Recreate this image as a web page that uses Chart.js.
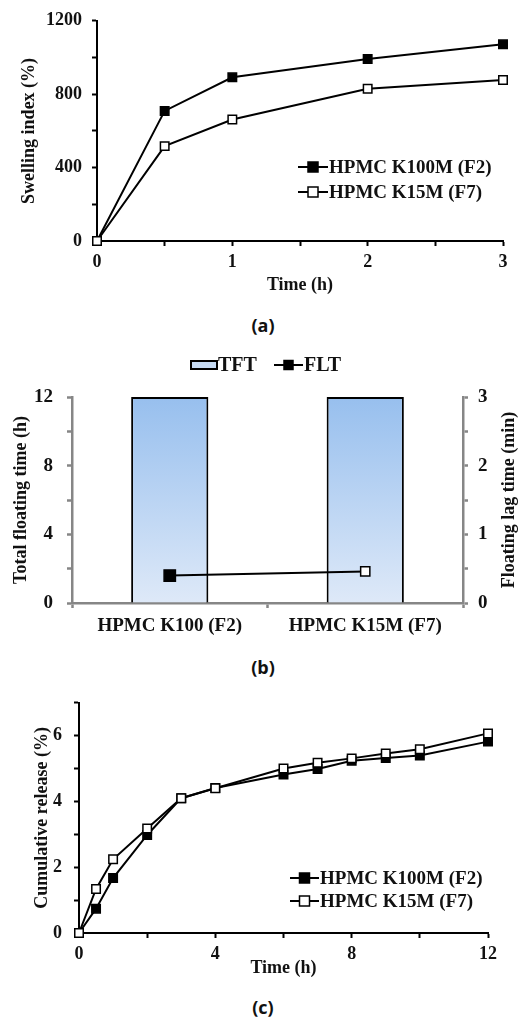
<!DOCTYPE html>
<html>
<head>
<meta charset="utf-8">
<script src="https://cdn.jsdelivr.net/npm/chart.js@4/dist/chart.umd.min.js"></script>
<style>
  html, body { margin: 0; padding: 0; background: #fff; }
  #page { position: relative; width: 528px; height: 1019px; overflow: hidden; }
  canvas { position: absolute; left: 0; }
  .cap { position: absolute; left: 0; width: 526px; text-align: center;
         font: bold 18px "Open Sans", "Noto Sans", sans-serif; color: #111; line-height: 20px; }
</style>
</head>
<body>
<div id="page">
  <canvas id="swell" width="528" height="305" style="top:0"></canvas>
  <div class="cap" style="top:315px">(a)</div>
  <canvas id="float" width="528" height="300" style="top:340px"></canvas>
  <div class="cap" style="top:657px">(b)</div>
  <canvas id="release" width="528" height="300" style="top:680px"></canvas>
  <div class="cap" style="top:997px">(c)</div>
</div>
<script>
// ---- data ----
const swellTime = [0, 0.5, 1, 2, 3];
const swellF2 = [0, 709, 892, 992, 1072];
const swellF7 = [0, 517, 662, 830, 877];
const swellXLabels = [0, 1, 2, 3];
const swellYLabels = [0, 400, 800, 1200];

const floatCategories = ['HPMC K100 (F2)', 'HPMC K15M (F7)'];
const totalFloatingTime = [12, 12];
const floatingLagTime = [0.40, 0.46];
const floatLeftLabels = [0, 4, 8, 12];
const floatRightLabels = [0, 1, 2, 3];

const releaseTime = [0, 0.5, 1, 2, 3, 4, 6, 7, 8, 9, 10, 12];
const releaseF2 = [0, 0.74, 1.67, 2.98, 4.10, 4.41, 4.82, 4.99, 5.24, 5.32, 5.40, 5.82];
const releaseF7 = [0, 1.34, 2.24, 3.18, 4.10, 4.40, 5.00, 5.18, 5.31, 5.46, 5.59, 6.07];
const releaseXLabels = [0, 4, 8, 12];
const releaseYLabels = [0, 2, 4, 6];

const seriesNames = ['HPMC K100M (F2)', 'HPMC K15M (F7)'];

// ---- shared styling ----
const SERIF = '"Liberation Serif", "Times New Roman", serif';
const TXT = '#111';
Chart.defaults.font.family = SERIF;
Chart.defaults.font.weight = 'bold';
Chart.defaults.color = TXT;
Chart.defaults.animation = false;

const pick = list => v => (list.includes(v) ? String(v) : '');
const fixWidth = w => scale => { scale.width = w; };
const fixHeight = h => scale => { scale.height = h; };

function axisStyle(color, width) {
  return {
    border: { display: true, color: color, width: width },
    grid: { drawOnChartArea: false, drawTicks: true, tickLength: 5, tickWidth: width, tickColor: color }
  };
}

// draws a compact legend (line sample with square marker, or bar swatch)
// and an optional right-hand axis title that reads bottom-to-top
const sampleLegend = {
  id: 'sampleLegend',
  afterDraw(chart, args, opts) {
    const ctx = chart.ctx;
    ctx.save();
    if (opts.items) {
      ctx.font = opts.font;
      ctx.textBaseline = 'middle';
      ctx.textAlign = 'left';
      opts.items.forEach(it => {
        const ds = chart.data.datasets[it.dataset];
        if (it.kind === 'box') {
          ctx.fillStyle = it.fill;
          ctx.fillRect(it.x, it.y - it.h / 2, it.w, it.h);
          ctx.strokeStyle = '#000';
          ctx.lineWidth = 2;
          ctx.strokeRect(it.x, it.y - it.h / 2, it.w, it.h);
        } else {
          ctx.strokeStyle = ds.borderColor;
          ctx.lineWidth = ds.borderWidth;
          ctx.beginPath();
          ctx.moveTo(it.x, it.y);
          ctx.lineTo(it.x + it.w, it.y);
          ctx.stroke();
          const bg = Array.isArray(ds.pointBackgroundColor) ? ds.pointBackgroundColor[0] : ds.pointBackgroundColor;
          const s = it.m;
          const cx = it.x + it.w / 2;
          ctx.fillStyle = bg;
          ctx.fillRect(cx - s / 2, it.y - s / 2, s, s);
          ctx.lineWidth = 1.5;
          ctx.strokeStyle = ds.pointBorderColor;
          ctx.strokeRect(cx - s / 2, it.y - s / 2, s, s);
        }
        ctx.fillStyle = TXT;
        ctx.fillText(ds.label, it.x + it.w + (it.gap || 1), it.y + 1);
      });
    }
    if (opts.sideTitle) {
      const t = opts.sideTitle;
      const area = chart.chartArea;
      ctx.translate(t.x, (area.top + area.bottom) / 2);
      ctx.rotate(-Math.PI / 2);
      ctx.font = t.font;
      ctx.fillStyle = TXT;
      ctx.textAlign = 'center';
      ctx.textBaseline = 'middle';
      ctx.fillText(t.text, 0, 0);
    }
    ctx.restore();
  }
};
Chart.register(sampleLegend);

function lineSeries(label, xs, ys, filled, order) {
  return {
    label: label,
    data: xs.map((x, i) => ({ x: x, y: ys[i] })),
    borderColor: '#000',
    borderWidth: 2,
    pointStyle: 'rect',
    pointRadius: 6,
    pointBorderWidth: 1.5,
    pointBorderColor: '#000',
    pointBackgroundColor: filled ? '#000' : '#fff',
    tension: 0,
    clip: false,
    order: order
  };
}

// ---- (a) swelling index ----
new Chart(document.getElementById('swell'), {
  type: 'line',
  data: {
    datasets: [
      lineSeries(seriesNames[0], swellTime, swellF2, true, 1),
      lineSeries(seriesNames[1], swellTime, swellF7, false, 0)
    ]
  },
  options: {
    responsive: false,
    layout: { padding: { top: 18, right: 25, left: 0, bottom: 0 } },
    plugins: {
      legend: { display: false },
      tooltip: { enabled: false },
      sampleLegend: {
        font: 'bold 19px ' + SERIF,
        items: [
          { dataset: 0, kind: 'line', x: 298, y: 167, w: 30, m: 10 },
          { dataset: 1, kind: 'line', x: 298, y: 192, w: 30, m: 10 }
        ]
      }
    },
    scales: {
      x: Object.assign(axisStyle('#000', 2), {
        type: 'linear', min: 0, max: 3,
        afterFit: fixHeight(64),
        ticks: { stepSize: 0.5, autoSkip: false, maxRotation: 0, padding: 6,
                 font: { size: 18 }, callback: pick(swellXLabels) },
        title: { display: true, text: 'Time (h)', font: { size: 18 }, padding: { top: 0, bottom: 9 } }
      }),
      y: Object.assign(axisStyle('#000', 2), {
        min: 0, max: 1200,
        afterFit: fixWidth(97),
        ticks: { stepSize: 200, autoSkip: false, padding: 10,
                 font: { size: 18 }, callback: pick(swellYLabels) },
        title: { display: true, text: 'Swelling index (%)', font: { size: 18 }, padding: { top: 19, bottom: 0 } }
      })
    }
  }
});

// ---- (b) floating behaviour ----
new Chart(document.getElementById('float'), {
  type: 'bar',
  data: {
    labels: floatCategories,
    datasets: [
      {
        type: 'line',
        label: 'FLT',
        data: floatingLagTime,
        yAxisID: 'y1',
        borderColor: '#000',
        borderWidth: 2,
        pointStyle: 'rect',
        pointRadius: [8, 6.5],
        pointBorderWidth: 1.5,
        pointBorderColor: '#000',
        pointBackgroundColor: ['#000', '#fff'],
        clip: false,
        order: 0
      },
      {
        type: 'bar',
        label: 'TFT',
        data: totalFloatingTime,
        yAxisID: 'y',
        backgroundColor: ctx => {
          const area = ctx.chart.chartArea;
          if (!area) return '#bcd5f3';
          const g = ctx.chart.ctx.createLinearGradient(0, area.top, 0, area.bottom);
          g.addColorStop(0, '#97bfee');
          g.addColorStop(1, '#dee9f8');
          return g;
        },
        borderColor: '#000',
        borderWidth: 2,
        categoryPercentage: 1,
        barPercentage: 0.395,
        order: 1
      }
    ]
  },
  options: {
    responsive: false,
    layout: { padding: { top: 57, right: 0, left: 0, bottom: 0 } },
    plugins: {
      legend: { display: false },
      tooltip: { enabled: false },
      sampleLegend: {
        font: 'bold 20px ' + SERIF,
        items: [
          { dataset: 1, kind: 'box', x: 191, y: 25, w: 26, h: 8, fill: '#c6dbf4' },
          { dataset: 0, kind: 'line', x: 274, y: 25, w: 29, m: 9 }
        ],
        sideTitle: { text: 'Floating lag time (min)', x: 509, font: 'bold 18px ' + SERIF }
      }
    },
    scales: {
      x: Object.assign(axisStyle('#868686', 2.5), {
        afterFit: fixHeight(37),
        ticks: { padding: 7, maxRotation: 0, autoSkip: false, font: { size: 19 }, color: TXT }
      }),
      y: Object.assign(axisStyle('#868686', 2.5), {
        position: 'left', min: 0, max: 12,
        afterFit: fixWidth(72),
        ticks: { stepSize: 2, autoSkip: false, padding: 14, font: { size: 19 }, callback: pick(floatLeftLabels) },
        title: { display: true, text: 'Total floating time (h)', font: { size: 18 }, padding: { top: 11, bottom: 0 } }
      }),
      y1: Object.assign(axisStyle('#868686', 2.5), {
        position: 'right', min: 0, max: 3,
        afterFit: fixWidth(65),
        ticks: { stepSize: 0.5, autoSkip: false, padding: 10, font: { size: 19 }, callback: pick(floatRightLabels) }
      })
    }
  }
});

// ---- (c) cumulative release ----
new Chart(document.getElementById('release'), {
  type: 'line',
  data: {
    datasets: [
      lineSeries(seriesNames[0], releaseTime, releaseF2, true, 1),
      lineSeries(seriesNames[1], releaseTime, releaseF7, false, 0)
    ]
  },
  options: {
    responsive: false,
    layout: { padding: { top: 21, right: 40, left: 0, bottom: 0 } },
    plugins: {
      legend: { display: false },
      tooltip: { enabled: false },
      sampleLegend: {
        font: 'bold 19px ' + SERIF,
        items: [
          { dataset: 0, kind: 'line', x: 290, y: 198, w: 29, m: 10 },
          { dataset: 1, kind: 'line', x: 290, y: 221, w: 29, m: 10 }
        ]
      }
    },
    scales: {
      x: Object.assign(axisStyle('#000', 2), {
        type: 'linear', min: 0, max: 12,
        afterFit: fixHeight(47),
        ticks: { stepSize: 2, autoSkip: false, maxRotation: 0, padding: 6,
                 font: { size: 18 }, callback: pick(releaseXLabels) },
        title: { display: true, text: 'Time (h)', font: { size: 18 }, padding: { top: 0, bottom: 1 } }
      }),
      y: Object.assign(axisStyle('#000', 2), {
        min: 0, max: 7,
        afterFit: fixWidth(79),
        ticks: { stepSize: 1, autoSkip: false, padding: 12,
                 font: { size: 18 }, callback: pick(releaseYLabels) },
        title: { display: true, text: 'Cumulative release (%)', font: { size: 18 }, padding: { top: 32, bottom: 0 } }
      })
    }
  }
});
</script>
</body>
</html>
